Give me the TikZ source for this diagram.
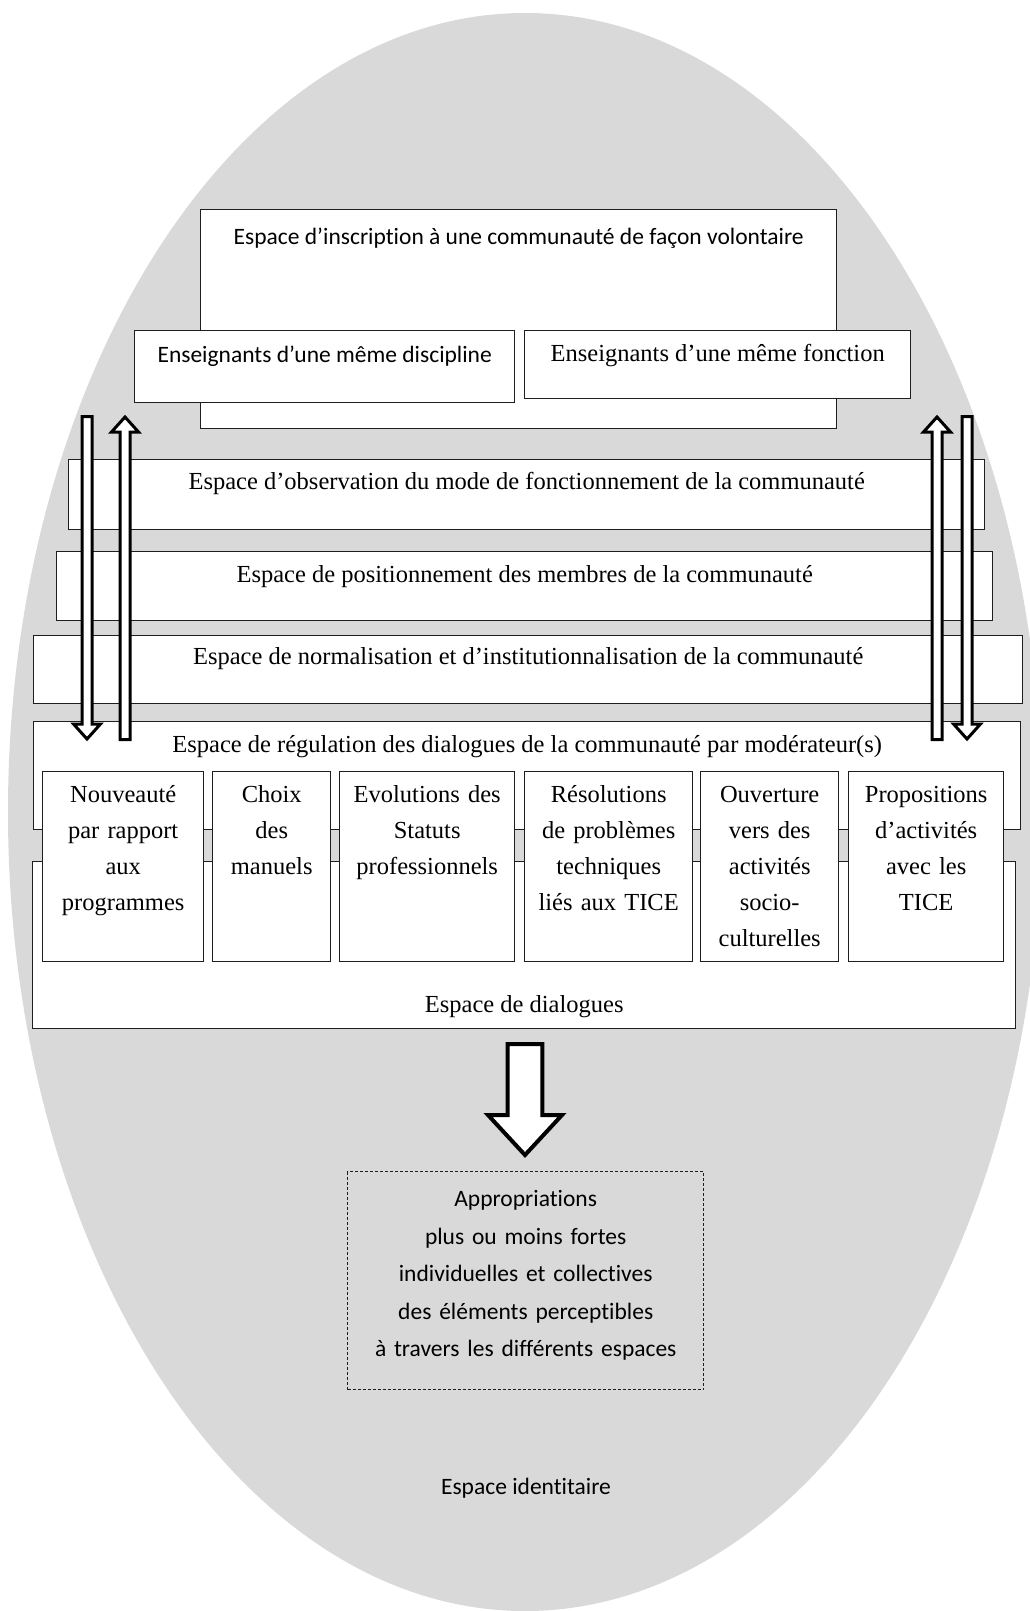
\documentclass[tikz,border=0pt]{standalone}
\usepackage{fontspec}
\setmainfont{Liberation Serif}
\newfontfamily\calibri[Ligatures=NoCommon]{Carlito}
\usetikzlibrary{calc}
\definecolor{idgray}{RGB}{217,217,217}
\definecolor{boxline}{RGB}{30,30,30}

\tikzset{
  box/.style={draw=boxline,fill=white,line width=1.4pt,inner sep=0pt,anchor=north west},
  serif/.style={font=\fontsize{24.5}{36}\selectfont},
  sans/.style={font=\calibri\fontsize{23.5}{37.5}\selectfont},
  smallbox/.style={box,serif,align=center,text height=31,text depth=159},
  blockarrow/.style n args={4}{draw=black,fill=white,line width=#1,
    to path={let \p1=(\tikztostart), \p2=(\tikztotarget),
      \p3=($(\tikztotarget)!#4!(\tikztostart)$) in
      (\x1-#2,\y1) -- (\x3-#2,\y3) -- (\x3-#3,\y3) -- (\p2)
      -- (\x3+#3,\y3) -- (\x3+#2,\y3) -- (\x1+#2,\y1) -- cycle}}
}

\begin{document}
\begin{tikzpicture}[x=1pt,y=-1pt]
  \useasboundingbox (0,0) rectangle (1030,1611);
  \fill[idgray] (525,812) ellipse [x radius=517,y radius=799];

  % upper spaces
  \node[box,sans,minimum width=636,text height=35,text depth=184] (inscr) at (200,209) {Espace d’inscription à une communauté de façon volontaire};
  \node[box,sans,minimum width=380,text height=32,text depth=40] (discip) at (134,330) {Enseignants d’une même discipline};
  \node[box,serif,minimum width=386,text height=31,text depth=37] (fonct) at (524,330) {Enseignants d’une même fonction};
  \node[box,serif,minimum width=916,text height=30,text depth=40] (observ) at (68,459) {Espace d’observation du mode de fonctionnement de la communauté};
  \node[box,serif,minimum width=936,text height=31,text depth=38] (posit) at (56,551) {Espace de positionnement des membres de la communauté};
  \node[box,serif,minimum width=989,text height=29,text depth=39] (normal) at (33,635) {Espace de normalisation et d’institutionnalisation de la communauté};
  \node[box,serif,minimum width=987,text height=31,text depth=77] (regul) at (33,721) {Espace de régulation des dialogues de la communauté par modérateur(s)};
  \node[box,serif,minimum width=983,text height=151,text depth=16] (dialog) at (32,861) {Espace de dialogues};

  % themes
  \node[smallbox,text width=161] (nouv) at (42,771) {Nouveauté\\par rapport\\aux\\programmes};
  \node[smallbox,text width=118] (choix) at (212,771) {Choix\\des\\manuels};
  \node[smallbox,text width=175] (evol) at (339,771) {Evolutions des\\Statuts\\professionnels};
  \node[smallbox,text width=168] (resol) at (524,771) {Résolutions\\de problèmes\\techniques\\liés aux TICE};
  \node[smallbox,text width=138] (ouvert) at (700,771) {Ouverture\\vers des\\activités\\socio-\\culturelles};
  \node[smallbox,text width=155] (propos) at (848,771) {Propositions\\d’activités\\avec les\\TICE};

  % arrows
  \coordinate (ldtop) at (87,416.5);
  \coordinate (ldbot) at (87,739);
  \coordinate (lubot) at (125,739.5);
  \coordinate (lutop) at (125,417);
  \coordinate (rubot) at (937,739.5);
  \coordinate (rutop) at (937,417);
  \coordinate (rdtop) at (967,416.5);
  \coordinate (rdbot) at (967,739);
  \draw[blockarrow={3pt}{5pt}{13.5pt}{15pt}] (ldtop) to (ldbot);
  \draw[blockarrow={3pt}{5pt}{13.5pt}{15pt}] (lubot) to (lutop);
  \draw[blockarrow={3pt}{5pt}{13.5pt}{15pt}] (rubot) to (rutop);
  \draw[blockarrow={3pt}{5pt}{13.5pt}{15pt}] (rdtop) to (rdbot);

  \coordinate (bigtop) at (525,1044);
  \coordinate (bigtip) at (525,1155);
  \draw[blockarrow={4pt}{17.3pt}{37pt}{40pt}] (bigtop) to (bigtip);

  % appropriation
  \node[draw=boxline,line width=1.4pt,dash pattern=on 3pt off 2pt,sans,anchor=north west,inner sep=0pt,
    text width=356,align=center,text height=35,text depth=183] (appro) at (347,1171)
    {Appropriations\\plus ou moins fortes\\individuelles et collectives\\des éléments perceptibles\\à travers les différents espaces};
  \node[sans] (ident) at (526,1488) {Espace identitaire};
\end{tikzpicture}
\end{document}
